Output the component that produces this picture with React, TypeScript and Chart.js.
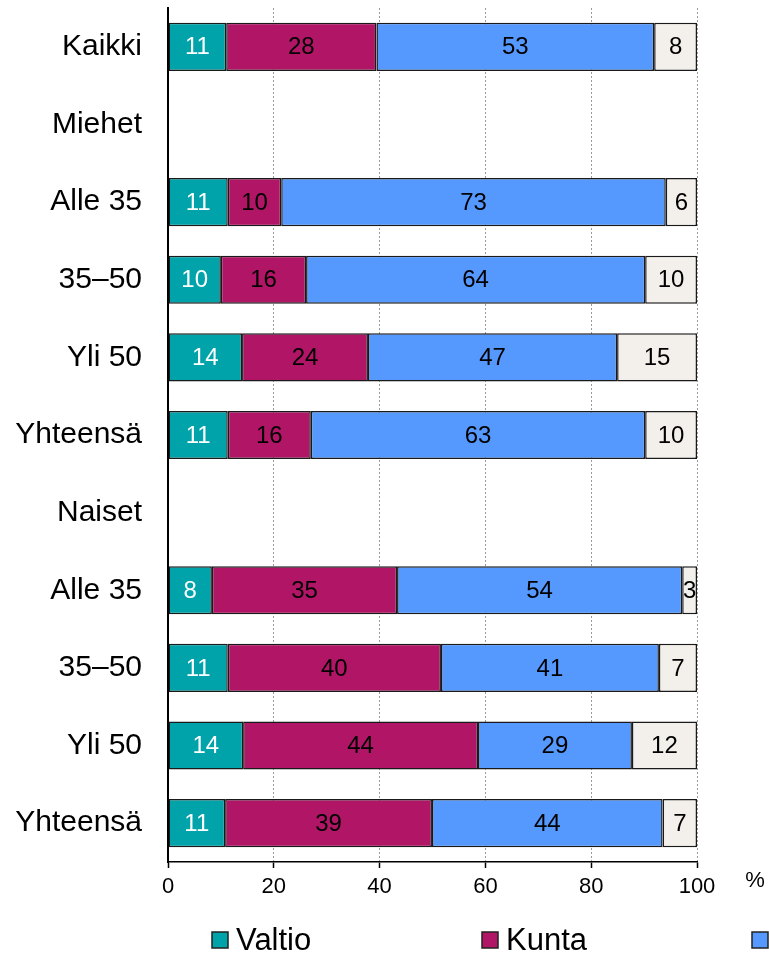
import React, { useEffect, useRef } from "react";
import { Chart, registerables } from "chart.js";

Chart.register(...registerables);

const categories = [
  "Kaikki",
  "Miehet",
  "Alle 35",
  "35–50",
  "Yli 50",
  "Yhteensä",
  "Naiset",
  "Alle 35",
  "35–50",
  "Yli 50",
  "Yhteensä",
];

const valtio = [11.0, null, 11.3, 10.0, 14.0, 11.3, null, 8.3, 11.3, 14.2, 10.8];
const kunta = [28.4, null, 10.1, 16.1, 23.8, 15.7, null, 35.0, 40.3, 44.4, 39.1];
const yksityinen = [52.5, null, 72.7, 64.1, 47.1, 63.2, null, 53.9, 41.2, 29.1, 43.6];
const muu = [8.1, null, 5.9, 9.8, 15.1, 9.8, null, 2.8, 7.2, 12.3, 6.5];

const seriesNames = ["Valtio", "Kunta", "Yksityinen", "Muu"];
const seriesColors = ["#00A3AA", "#B01566", "#5599FF", "#F3EFEA"];
const labelColors = ["#ffffff", "#000000", "#000000", "#000000"];

const xTicks = [0, 20, 40, 60, 80, 100];
const axisUnit = "%";

const FONT = "'Liberation Sans', Arial, sans-serif";

const labelsPlugin = {
  id: "segLabels",
  afterDatasetsDraw(chart: any) {
    const ctx = chart.ctx;
    ctx.save();
    ctx.font = `24px ${FONT}`;
    ctx.textAlign = "center";
    ctx.textBaseline = "middle";
    chart.data.datasets.forEach((ds: any, di: number) => {
      const meta = chart.getDatasetMeta(di);
      meta.data.forEach((el: any, i: number) => {
        const v = ds.data[i];
        if (v === null || v === undefined) return;
        const p = el.getProps(["x", "y", "base"], true);
        ctx.fillStyle = labelColors[di];
        ctx.fillText(String(Math.round(v)), (p.x + p.base) / 2, p.y + 1);
      });
    });
    ctx.restore();
  },
};

const extrasPlugin = {
  id: "extras",
  afterDraw(chart: any) {
    const ctx = chart.ctx;
    const area = chart.chartArea;
    ctx.save();
    // unit label
    ctx.font = `22px ${FONT}`;
    ctx.fillStyle = "#000";
    ctx.textAlign = "center";
    ctx.textBaseline = "middle";
    ctx.fillText(axisUnit, area.right + 58, area.bottom + 19);
    // legend
    const legendY = 940;
    const startX = 212;
    const step = 270;
    const box = 16;
    chart.data.datasets.forEach((ds: any, i: number) => {
      const x = startX + i * step;
      ctx.fillStyle = ds.backgroundColor;
      ctx.fillRect(x, legendY - box / 2, box, box);
      ctx.lineWidth = 1.5;
      ctx.strokeStyle = "#222";
      ctx.strokeRect(x, legendY - box / 2, box, box);
      ctx.fillStyle = "#000";
      ctx.font = `31px ${FONT}`;
      ctx.textAlign = "left";
      ctx.textBaseline = "middle";
      ctx.fillText(ds.label, x + box + 8, legendY + 1);
    });
    ctx.restore();
  },
};

export default function App() {
  const ref = useRef<HTMLCanvasElement | null>(null);

  useEffect(() => {
    if (!ref.current) return;
    const dataArrays = [valtio, kunta, yksityinen, muu];
    const chart = new Chart(ref.current, {
      type: "bar",
      data: {
        labels: categories,
        datasets: dataArrays.map((d, i) => ({
          label: seriesNames[i],
          data: d,
          backgroundColor: seriesColors[i],
          borderColor: "#1a1a1a",
          borderWidth: 1.5,
          borderSkipped: false,
          barPercentage: 0.62,
          categoryPercentage: 1,
        })),
      },
      options: {
        indexAxis: "y",
        responsive: false,
        animation: false,
        layout: { padding: { top: 8, right: 72, bottom: 54, left: 0 } },
        plugins: {
          legend: { display: false },
          tooltip: { enabled: false },
        },
        scales: {
          x: {
            stacked: true,
            min: 0,
            max: 100,
            afterBuildTicks: (scale: any) => {
              scale.ticks = xTicks.map((v) => ({ value: v }));
            },
            afterFit: (scale: any) => {
              scale.height = 40;
            },
            ticks: {
              color: "#000",
              font: { family: FONT, size: 22 },
              padding: 6,
              maxRotation: 0,
            },
            grid: {
              color: (c: any) => (c.tick && c.tick.value === 0 ? "rgba(0,0,0,0)" : "#9a9a9a"),
              lineWidth: 1,
              drawTicks: true,
              tickLength: 6,
              tickColor: "#000",
              tickWidth: 1.5,
              tickBorderDash: [],
            },
            border: { display: true, color: "#000", width: 1.5, dash: [2, 2] },
          },
          y: {
            stacked: true,
            afterFit: (scale: any) => {
              scale.width = 168;
              scale.paddingTop = 0;
              scale.paddingBottom = 0;
            },
            ticks: {
              color: "#000",
              font: { family: FONT, size: 30 },
              padding: 26,
            },
            grid: { display: false, drawTicks: false },
            border: { display: true, color: "#000", width: 2 },
          },
        },
      },
      plugins: [labelsPlugin, extrasPlugin],
    });
    return () => chart.destroy();
  }, []);

  return (
    <div style={{ position: "absolute", left: 0, top: 0, width: 769, height: 956 }}>
      <canvas ref={ref} width={769} height={956} />
    </div>
  );
}
